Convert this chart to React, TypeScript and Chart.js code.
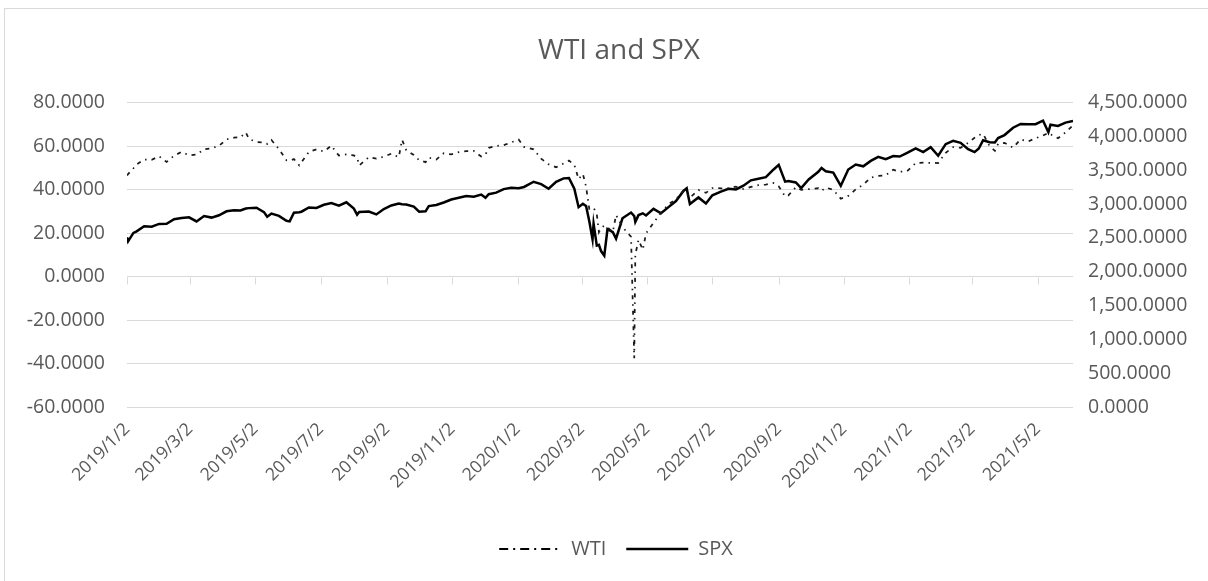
import React, { useEffect, useRef } from "react";
import { Chart, registerables } from "chart.js";

Chart.register(...registerables);

const TITLE = "WTI and SPX";

const DATES = [
  "2019-01-02","2019-01-03","2019-01-08","2019-01-11","2019-01-18","2019-01-25","2019-02-01","2019-02-08","2019-02-15","2019-02-22",
  "2019-03-01","2019-03-08","2019-03-15","2019-03-22","2019-03-29","2019-04-05","2019-04-12","2019-04-18","2019-04-23","2019-04-26",
  "2019-05-03","2019-05-10","2019-05-13","2019-05-17","2019-05-24","2019-05-31","2019-06-03","2019-06-07","2019-06-12","2019-06-14",
  "2019-06-21","2019-06-28","2019-07-05","2019-07-12","2019-07-19","2019-07-26","2019-08-02","2019-08-05","2019-08-07","2019-08-16",
  "2019-08-23","2019-08-30","2019-09-06","2019-09-13","2019-09-16","2019-09-20","2019-09-27","2019-10-02","2019-10-08","2019-10-11",
  "2019-10-18","2019-10-25","2019-11-01","2019-11-08","2019-11-15","2019-11-22","2019-11-29","2019-12-03","2019-12-06","2019-12-13",
  "2019-12-20","2019-12-27","2020-01-03","2020-01-08","2020-01-17","2020-01-24","2020-01-31","2020-02-07","2020-02-14","2020-02-19",
  "2020-02-24","2020-02-28","2020-03-03","2020-03-06","2020-03-09","2020-03-12","2020-03-13","2020-03-16","2020-03-18","2020-03-20",
  "2020-03-23","2020-03-26","2020-03-31","2020-04-03","2020-04-09","2020-04-17","2020-04-20","2020-04-21","2020-04-24","2020-04-28",
  "2020-05-01","2020-05-08","2020-05-15","2020-05-22","2020-05-29","2020-06-05","2020-06-08","2020-06-11","2020-06-19","2020-06-26",
  "2020-07-02","2020-07-10","2020-07-17","2020-07-24","2020-07-31","2020-08-07","2020-08-14","2020-08-21","2020-08-28","2020-09-02",
  "2020-09-08","2020-09-11","2020-09-18","2020-09-23","2020-09-30","2020-10-09","2020-10-12","2020-10-16","2020-10-23","2020-10-30",
  "2020-11-06","2020-11-13","2020-11-20","2020-11-27","2020-12-04","2020-12-11","2020-12-18","2020-12-24","2020-12-31","2021-01-08",
  "2021-01-15","2021-01-22","2021-01-29","2021-02-05","2021-02-12","2021-02-19","2021-02-26","2021-03-04","2021-03-08","2021-03-12",
  "2021-03-18","2021-03-23","2021-03-26","2021-04-01","2021-04-09","2021-04-16","2021-04-23","2021-04-30","2021-05-07","2021-05-12",
  "2021-05-14","2021-05-21","2021-05-28","2021-06-04"
];

const WTI = [
  46.5,47.1,49.8,51.6,53.8,53.7,55.3,52.7,55.6,57.3,
  55.8,56.1,58.5,59.0,60.1,63.1,63.9,64.0,66.3,63.3,
  61.9,61.7,61.0,62.8,58.6,53.5,53.3,54.0,51.1,52.5,
  57.4,58.5,57.5,60.2,55.6,56.2,55.7,54.7,51.1,54.9,
  54.2,55.1,56.5,54.9,62.9,58.1,55.9,53.5,52.6,54.7,
  53.8,56.7,56.2,57.2,57.7,57.8,55.2,56.1,59.2,60.1,
  60.4,61.7,63.0,59.6,58.5,54.2,51.6,50.3,52.0,53.3,
  51.4,44.8,47.2,41.3,31.1,31.5,31.7,28.7,20.4,22.4,
  23.4,22.6,20.5,28.3,22.8,18.3,-37.6,10.0,16.9,12.3,
  19.8,24.7,29.4,33.3,35.5,39.6,38.2,36.3,39.8,38.5,
  40.7,40.6,40.6,41.3,40.3,41.2,42.0,42.3,43.0,41.5,
  36.8,37.3,41.1,39.9,40.2,40.6,39.4,40.9,39.9,35.8,
  37.1,40.1,42.2,45.5,46.3,46.6,49.1,48.2,48.5,52.2,
  52.4,52.3,52.2,56.9,59.5,59.2,61.5,63.8,65.1,65.6,
  60.0,57.8,61.0,61.5,59.3,63.1,62.1,63.6,64.9,66.1,
  65.4,63.6,66.3,69.6
];

const SPX = [
  2510,2448,2574,2596,2671,2665,2707,2708,2776,2793,
  2804,2743,2822,2800,2834,2893,2907,2905,2934,2940,
  2946,2881,2812,2860,2826,2752,2744,2873,2879,2887,
  2950,2942,2990,3014,2977,3026,2932,2844,2884,2889,
  2847,2926,2979,3007,2998,2992,2962,2887,2893,2970,
  2986,3023,3067,3093,3120,3110,3141,3093,3146,3169,
  3221,3240,3235,3253,3330,3295,3226,3328,3380,3386,
  3226,2954,3003,2972,2747,2481,2711,2386,2398,2305,
  2237,2630,2585,2489,2790,2875,2823,2737,2837,2863,
  2831,2930,2864,2955,3044,3194,3232,3002,3098,3009,
  3130,3185,3225,3216,3271,3351,3373,3397,3508,3580,
  3332,3341,3319,3237,3363,3477,3534,3484,3465,3270,
  3510,3585,3558,3638,3699,3663,3709,3703,3756,3824,
  3768,3841,3714,3886,3934,3906,3811,3768,3821,3943,
  3915,3910,3975,4020,4129,4185,4180,4181,4233,4063,
  4174,4156,4204,4230
];

const X_TICK_LABELS = [
  "2019/1/2","2019/3/2","2019/5/2","2019/7/2","2019/9/2","2019/11/2","2020/1/2","2020/3/2",
  "2020/5/2","2020/7/2","2020/9/2","2020/11/2","2021/1/2","2021/3/2","2021/5/2"
];

const WTI_MIN = -60;
const WTI_MAX = 80;
const WTI_STEP = 20;
const SPX_MIN = 0;
const SPX_MAX = 4500;
const SPX_STEP = 500;

const BASE = Date.UTC(2019, 0, 2);
const dayOf = (s: string) => {
  const [y, m, d] = s.split(/[-\/]/).map(Number);
  return Math.round((Date.UTC(y, m - 1, d) - BASE) / 86400000);
};

const FONT = "'Open Sans', 'Noto Sans', sans-serif";
const TEXT = "#595959";
const GRID = "#d9d9d9";

const axisTicksPlugin = {
  id: "axisTicks",
  afterLayout(chart: any) {
    if (chart.titleBlock) {
      chart.titleBlock.left += 15;
      chart.titleBlock.right += 15;
    }
    if (chart.legend) {
      chart.legend.left += 12;
      chart.legend.right += 12;
    }
  },
  beforeDatasetsDraw(chart: any) {
    const { ctx, scales } = chart;
    const y0 = Math.round(scales.yL.getPixelForValue(0)) + 0.5;
    ctx.save();
    ctx.strokeStyle = GRID;
    ctx.lineWidth = 1;
    ctx.beginPath();
    for (const t of scales.x.ticks) {
      const x = Math.round(scales.x.getPixelForValue(t.value)) + 0.5;
      ctx.moveTo(x, y0);
      ctx.lineTo(x, y0 + 7);
    }
    ctx.stroke();
    ctx.restore();
  },
};

export default function App() {
  const ref = useRef<HTMLCanvasElement | null>(null);

  useEffect(() => {
    if (!ref.current) return;
    const tickValues = X_TICK_LABELS.map(dayOf);
    const chart = new Chart(ref.current, {
      type: "line",
      data: {
        datasets: [
          {
            label: "WTI",
            data: DATES.map((d, i) => ({ x: dayOf(d), y: WTI[i] })),
            yAxisID: "yL",
            borderColor: "#1a1a1a",
            backgroundColor: "#1a1a1a",
            borderWidth: 1.75,
            borderDash: [4, 5, 1.5, 5],
            pointRadius: 0,
            pointStyle: "line",
            tension: 0,
          },
          {
            label: "SPX",
            data: DATES.map((d, i) => ({ x: dayOf(d), y: SPX[i] })),
            yAxisID: "yR",
            borderColor: "#000000",
            backgroundColor: "#000000",
            borderWidth: 2.5,
            pointRadius: 0,
            pointStyle: "line",
            tension: 0,
          },
        ],
      },
      options: {
        responsive: false,
        animation: false,
        devicePixelRatio: 1,
        layout: { padding: { top: 0, bottom: 12, left: 0, right: 0 } },
        plugins: {
          title: {
            display: true,
            text: TITLE,
            color: TEXT,
            font: { family: FONT, size: 28, weight: "normal" },
            padding: { top: 34, bottom: 35 },
          },
          legend: {
            position: "bottom",
            labels: {
              usePointStyle: true,
              pointStyleWidth: 62,
              color: TEXT,
              font: { family: FONT, size: 20 },
              padding: 20,
              generateLabels: (c: any) => {
                const items = Chart.defaults.plugins.legend.labels.generateLabels(c);
                return items.map((it: any) => ({
                  ...it,
                  pointStyle: "line",
                  lineDash: it.text === "WTI" ? [9, 5, 2, 5] : [],
                  lineWidth: it.text === "WTI" ? 2 : 2.5,
                  strokeStyle: "#000",
                }));
              },
            },
          },
          tooltip: { enabled: false },
        },
        scales: {
          x: {
            type: "linear",
            min: 0,
            max: dayOf(DATES[DATES.length - 1]),
            grid: { display: false },
            border: { display: false },
            afterBuildTicks: (scale: any) => {
              scale.ticks = tickValues.map((v) => ({ value: v }));
            },
            afterFit: (scale: any) => {
              scale.height = 112;
            },
            ticks: {
              autoSkip: false,
              maxRotation: 45,
              minRotation: 45,
              padding: 4,
              color: TEXT,
              font: { family: FONT, size: 17.5 },
              callback: (v: any) => {
                const i = tickValues.indexOf(Number(v));
                return i >= 0 ? X_TICK_LABELS[i] : "";
              },
            },
          },
          yL: {
            type: "linear",
            position: "left",
            min: WTI_MIN,
            max: WTI_MAX,
            grid: { color: GRID, lineWidth: 1, drawTicks: false },
            border: { display: false },
            afterFit: (scale: any) => {
              scale.width = 127;
            },
            ticks: {
              stepSize: WTI_STEP,
              padding: 22,
              color: TEXT,
              font: { family: FONT, size: 19.5 },
              callback: (v: any) => Number(v).toFixed(4),
            },
          },
          yR: {
            type: "linear",
            position: "right",
            min: SPX_MIN,
            max: SPX_MAX,
            grid: { display: false, drawOnChartArea: false, drawTicks: false },
            border: { display: false },
            afterFit: (scale: any) => {
              scale.width = 135;
            },
            ticks: {
              stepSize: SPX_STEP,
              padding: 15,
              color: TEXT,
              font: { family: FONT, size: 19.5 },
              callback: (v: any) =>
                Number(v).toLocaleString("en-US", {
                  minimumFractionDigits: 4,
                  maximumFractionDigits: 4,
                }),
            },
          },
        },
      },
      plugins: [axisTicksPlugin],
    } as any);
    return () => chart.destroy();
  }, []);

  return (
    <div
      style={{
        position: "fixed",
        left: 0,
        top: 0,
        width: 1208,
        height: 581,
        overflow: "hidden",
        background: "#fff",
      }}
    >
      <div
        style={{
          position: "absolute",
          left: 4,
          top: 8,
          width: 1220,
          height: 620,
          border: "1px solid #d9d9d9",
          boxSizing: "border-box",
        }}
      />
      <canvas
        ref={ref}
        width={1208}
        height={581}
        style={{ position: "absolute", left: 0, top: 0, width: 1208, height: 581 }}
      />
    </div>
  );
}
